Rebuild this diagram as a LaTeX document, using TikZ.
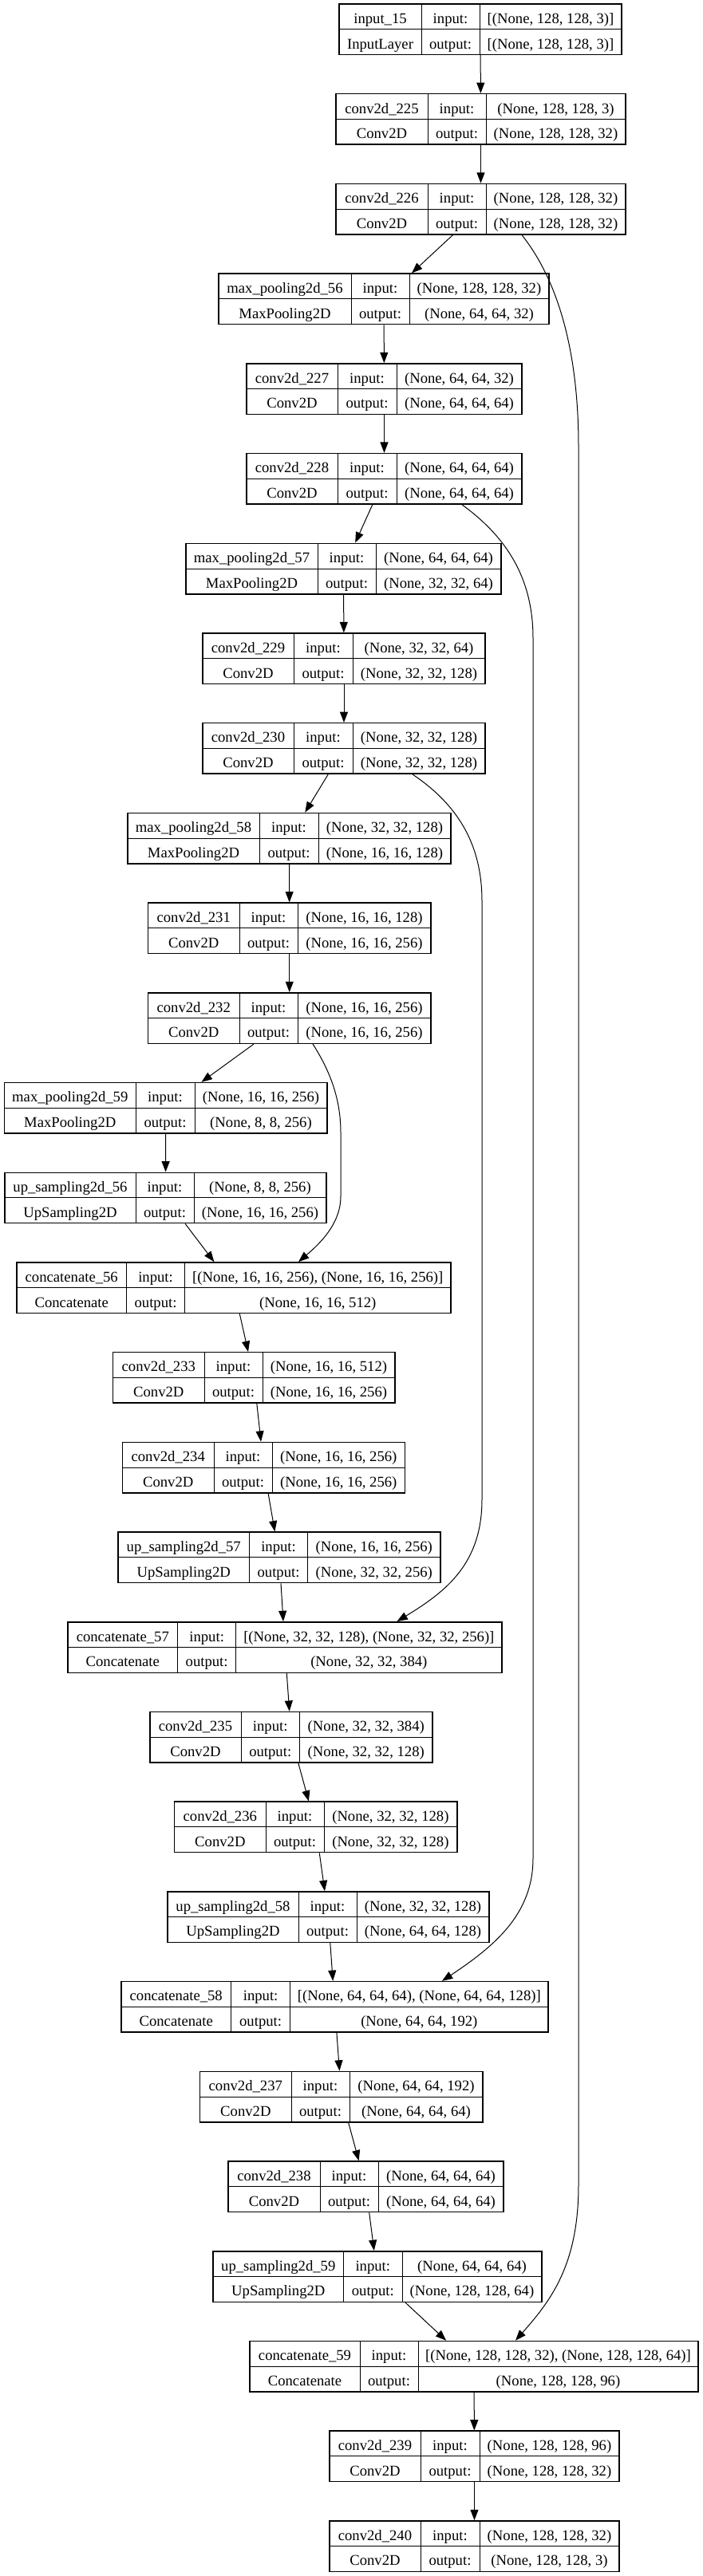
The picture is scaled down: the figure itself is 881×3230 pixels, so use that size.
\documentclass[tikz,border=0pt]{standalone}
\usepackage{fontspec}
\setmainfont{Liberation Serif}
\usetikzlibrary{arrows.meta,calc,fit}

\newcount\layerno
\tikzset{
	layerbox/.style={draw, line width=1.1pt, inner sep=0pt},
	cellline/.style={line width=0.75pt},
	celltext/.style={anchor=base, inner sep=0pt, font=\fontsize{14pt}{16pt}\selectfont},
	edge/.style={line width=0.75pt, -{Triangle[length=10pt,width=7.5pt]}},
}

% one layer: name, x of left edge, the two inner lines, right edge, texts
\newcommand{\layer}[9]{%
	\pgfmathsetmacro\ytop{5+112.71*\the\layerno}
	\pgfmathsetmacro\ymid{\ytop+31.75}
	\pgfmathsetmacro\ybot{\ytop+63.5}
	\pgfmathsetmacro\yone{\ytop+24.3}
	\pgfmathsetmacro\ytwo{\ymid+24.3}
	\pgfmathsetmacro\xn{(#2+#3)/2}
	\pgfmathsetmacro\xm{(#3+#4)/2}
	\pgfmathsetmacro\xs{(#4+#5)/2}
	\node [layerbox, fit={(#2,\ytop) (#5,\ybot)}] (#1) {};
	\draw [cellline] (#3,\ytop) -- (#3,\ybot) (#4,\ytop) -- (#4,\ybot) (#2,\ymid) -- (#5,\ymid);
	\node [celltext] (#1-name)  at (\xn,\yone) {#6};
	\node [celltext] (#1-class) at (\xn,\ytwo) {#7};
	\node [celltext] (#1-inl)   at (\xm,\yone) {input:};
	\node [celltext] (#1-outl)  at (\xm,\ytwo) {output:};
	\node [celltext] (#1-in)    at (\xs,\yone) {#8};
	\node [celltext] (#1-out)   at (\xs,\ytwo) {#9};
	\global\advance\layerno by 1
}

\begin{document}
\begin{tikzpicture}[x=0.75pt, y=-0.75pt]
	\useasboundingbox (0,0) rectangle (881,3230);
	
	\layer{in15}{425}{528}{601}{779}{input\_15}{InputLayer}{[(None, 128, 128, 3)]}{[(None, 128, 128, 3)]}
	\layer{c225}{421}{536}{609}{784}{conv2d\_225}{Conv2D}{(None, 128, 128, 3)}{(None, 128, 128, 32)}
	\layer{c226}{421}{536}{609}{784}{conv2d\_226}{Conv2D}{(None, 128, 128, 32)}{(None, 128, 128, 32)}
	\layer{mp56}{274}{440}{513}{688}{max\_pooling2d\_56}{MaxPooling2D}{(None, 128, 128, 32)}{(None, 64, 64, 32)}
	\layer{c227}{309}{423}{497}{654}{conv2d\_227}{Conv2D}{(None, 64, 64, 32)}{(None, 64, 64, 64)}
	\layer{c228}{309}{423}{497}{654}{conv2d\_228}{Conv2D}{(None, 64, 64, 64)}{(None, 64, 64, 64)}
	\layer{mp57}{233}{398}{471}{628}{max\_pooling2d\_57}{MaxPooling2D}{(None, 64, 64, 64)}{(None, 32, 32, 64)}
	\layer{c229}{254}{368}{442}{608}{conv2d\_229}{Conv2D}{(None, 32, 32, 64)}{(None, 32, 32, 128)}
	\layer{c230}{254}{368}{442}{608}{conv2d\_230}{Conv2D}{(None, 32, 32, 128)}{(None, 32, 32, 128)}
	\layer{mp58}{160}{325}{399}{565}{max\_pooling2d\_58}{MaxPooling2D}{(None, 32, 32, 128)}{(None, 16, 16, 128)}
	\layer{c231}{185.5}{300}{373}{540}{conv2d\_231}{Conv2D}{(None, 16, 16, 128)}{(None, 16, 16, 256)}
	\layer{c232}{185.5}{300}{373}{540}{conv2d\_232}{Conv2D}{(None, 16, 16, 256)}{(None, 16, 16, 256)}
	\layer{mp59}{5.6}{170}{244}{410}{max\_pooling2d\_59}{MaxPooling2D}{(None, 16, 16, 256)}{(None, 8, 8, 256)}
	\layer{us56}{6}{170}{243}{409}{up\_sampling2d\_56}{UpSampling2D}{(None, 8, 8, 256)}{(None, 16, 16, 256)}
	\layer{cat56}{21}{158.5}{231.6}{565}{concatenate\_56}{Concatenate}{[(None, 16, 16, 256), (None, 16, 16, 256)]}{(None, 16, 16, 512)}
	\layer{c233}{141.6}{256}{329}{495}{conv2d\_233}{Conv2D}{(None, 16, 16, 512)}{(None, 16, 16, 256)}
	\layer{c234}{153.5}{268}{341}{507.6}{conv2d\_234}{Conv2D}{(None, 16, 16, 256)}{(None, 16, 16, 256)}
	\layer{us57}{148}{312.5}{385.6}{552}{up\_sampling2d\_57}{UpSampling2D}{(None, 16, 16, 256)}{(None, 32, 32, 256)}
	\layer{cat57}{85}{222.6}{295.7}{629}{concatenate\_57}{Concatenate}{[(None, 32, 32, 128), (None, 32, 32, 256)]}{(None, 32, 32, 384)}
	\layer{c235}{188}{302}{375.5}{542}{conv2d\_235}{Conv2D}{(None, 32, 32, 384)}{(None, 32, 32, 128)}
	\layer{c236}{218.7}{333}{406}{572.8}{conv2d\_236}{Conv2D}{(None, 32, 32, 128)}{(None, 32, 32, 128)}
	\layer{us58}{210}{374}{447}{613}{up\_sampling2d\_58}{UpSampling2D}{(None, 32, 32, 128)}{(None, 64, 64, 128)}
	\layer{cat58}{152}{289.5}{363.7}{687}{concatenate\_58}{Concatenate}{[(None, 64, 64, 64), (None, 64, 64, 128)]}{(None, 64, 64, 192)}
	\layer{c237}{250.7}{365}{438}{605}{conv2d\_237}{Conv2D}{(None, 64, 64, 192)}{(None, 64, 64, 64)}
	\layer{c238}{286}{401}{474}{631}{conv2d\_238}{Conv2D}{(None, 64, 64, 64)}{(None, 64, 64, 64)}
	\layer{us59}{267}{430.6}{504}{679}{up\_sampling2d\_59}{UpSampling2D}{(None, 64, 64, 64)}{(None, 128, 128, 64)}
	\layer{cat59}{313}{451}{524}{875}{concatenate\_59}{Concatenate}{[(None, 128, 128, 32), (None, 128, 128, 64)]}{(None, 128, 128, 96)}
	\layer{c239}{413}{527}{601}{776}{conv2d\_239}{Conv2D}{(None, 128, 128, 96)}{(None, 128, 128, 32)}
	\layer{c240}{413}{527}{601}{776}{conv2d\_240}{Conv2D}{(None, 128, 128, 32)}{(None, 128, 128, 3)}
	
	\draw [edge] (in15) -- (c225);
	\draw [edge] (c225) -- (c226);
	\draw [edge] (c226) -- (mp56);
	\draw [edge] (mp56) -- (c227);
	\draw [edge] (c227) -- (c228);
	\draw [edge] (c228) -- (mp57);
	\draw [edge] (mp57) -- (c229);
	\draw [edge] (c229) -- (c230);
	\draw [edge] (c230) -- (mp58);
	\draw [edge] (mp58) -- (c231);
	\draw [edge] (c231) -- (c232);
	\draw [edge] (c232) -- (mp59);
	\draw [edge] (mp59) -- (us56);
	\draw [edge] (us56) -- (cat56);
	\draw [edge] (cat56) -- (c233);
	\draw [edge] (c233) -- (c234);
	\draw [edge] (c234) -- (us57);
	\draw [edge] (us57) -- (cat57);
	\draw [edge] (cat57) -- (c235);
	\draw [edge] (c235) -- (c236);
	\draw [edge] (c236) -- (us58);
	\draw [edge] (us58) -- (cat58);
	\draw [edge] (cat58) -- (c237);
	\draw [edge] (c237) -- (c238);
	\draw [edge] (c238) -- (us59);
	\draw [edge] (us59) -- (cat59);
	\draw [edge] (cat59) -- (c239);
	\draw [edge] (c239) -- (c240);
	
	% skip connections
	\draw [edge] ($(c226.south)+(51.5,0)$) .. controls (690,340) and (725,420) .. (725,560)
		-- (725,2740) .. controls (725,2840) and (690,2885) .. ($(cat59.north)+(52,0)$);
	\draw [edge] ($(c228.south)+(97.5,0)$) .. controls (630,670) and (668,720) .. (668,800)
		-- (668,2330) .. controls (668,2400) and (620,2440) .. ($(cat58.north)+(134.5,0)$);
	\draw [edge] ($(c230.south)+(86,0)$) .. controls (575,1010) and (604,1060) .. (604,1130)
		-- (604,1880) .. controls (604,1960) and (560,1995) .. ($(cat57.north)+(140.5,0)$);
	\draw [edge] ($(c232.south)+(29.25,0)$) .. controls (415,1345) and (427,1380) .. (427,1420)
		-- (427,1500) .. controls (427,1535) and (400,1560) .. ($(cat56.north)+(81,0)$);
\end{tikzpicture}
\end{document}
